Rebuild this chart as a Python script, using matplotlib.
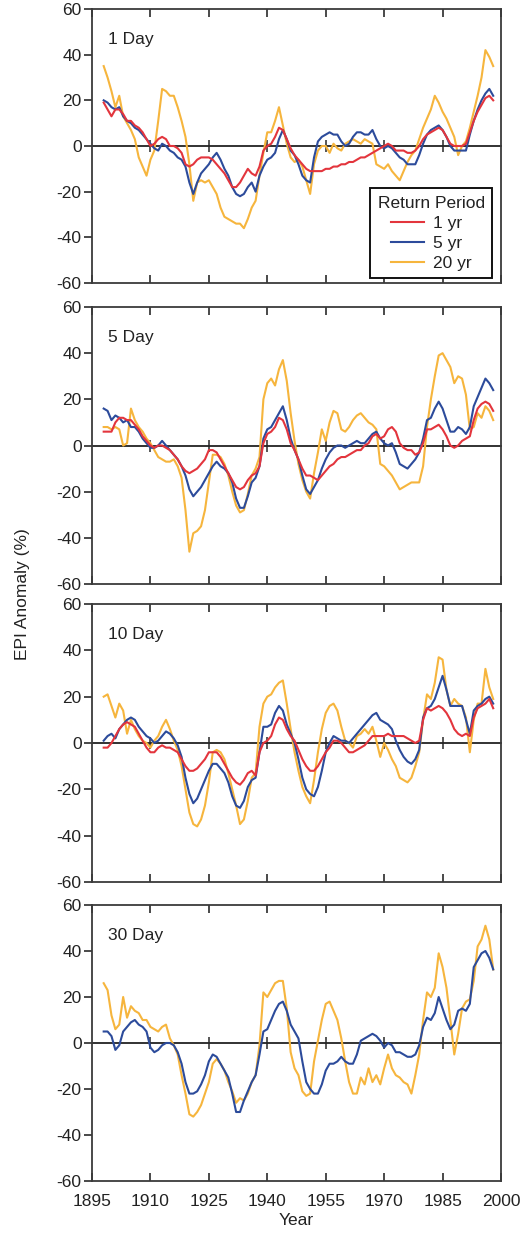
import numpy as np
import matplotlib
matplotlib.use("Agg")
import matplotlib.pyplot as plt

plt.rcParams['font.family'] = ['Liberation Sans', 'DejaVu Sans']
plt.rcParams['axes.unicode_minus'] = False

years = np.arange(1898, 1999)

panel_titles = ["1 Day", "5 Day", "10 Day", "30 Day"]
series_labels = ["1 yr", "5 yr", "20 yr"]
legend_title = "Return Period"
x_ticks = [1895, 1910, 1925, 1940, 1955, 1970, 1985, 2000]
y_ticks = [-60, -40, -20, 0, 20, 40, 60]

# ---- 1 Day ----
day1_1yr = [19, 16, 13, 16, 16, 14, 11, 11, 9, 8,
            6, 3, 0, 1, 3, 4, 3, 0, 0, -1,
            -3, -8, -9, -8, -6, -5, -5, -5, -6, -8,
            -10, -12, -15, -18, -18, -16, -13, -10, -12, -13,
            -9, -2, 0, 1, 4, 8, 7, 3, -1, -4,
            -6, -8, -10, -11, -11, -11, -11, -10, -10, -9,
            -9, -8, -8, -7, -7, -6, -5, -5, -4, -3,
            -2, -1, 0, 1, 0, -2, -2, -2, -3, -3,
            -2, 0, 3, 5, 6, 7, 8, 7, 4, 1,
            0, 0, 0, 1, 6, 11, 15, 18, 21, 22,
            20]
day1_5yr = [20, 19, 17, 16, 17, 13, 11, 10, 8, 7,
            5, 3, 1, -1, -2, 1, 0, -2, -3, -5,
            -6, -9, -16, -21, -16, -12, -10, -8, -5, -3,
            -6, -10, -13, -18, -21, -22, -21, -18, -16, -20,
            -13, -9, -6, -5, -3, 3, 7, 3, -2, -4,
            -8, -13, -15, -16, -5, 2, 4, 5, 6, 5,
            5, 2, 0, 1, 4, 6, 6, 5, 5, 7,
            3, 0, -1, 0, -1, -3, -5, -6, -8, -8,
            -8, -4, 1, 5, 7, 8, 9, 7, 4, 0,
            -2, -2, -2, -2, 5, 11, 16, 20, 23, 25,
            22]
day1_20yr = [35, 30, 24, 17, 22, 13, 10, 7, 3, -5,
             -9, -13, -6, -2, 11, 25, 24, 22, 22, 17,
             11, 4, -8, -24, -16, -15, -16, -15, -18, -21,
             -27, -31, -32, -33, -34, -34, -36, -32, -27, -24,
             -13, -3, 6, 6, 11, 17, 9, 1, -5, -7,
             -6, -9, -15, -21, -8, -2, 0, 0, -3, 1,
             -1, -2, 1, 2, 3, 2, 1, 3, 2, 1,
             -8, -9, -10, -8, -11, -13, -15, -11, -7, -4,
             -2, 3, 8, 12, 16, 22, 19, 15, 12, 8,
             4, -4, 0, 2, 8, 15, 22, 30, 42, 39,
             35]

# ---- 5 Day ----
day5_1yr = [6, 6, 6, 10, 12, 12, 11, 11, 9, 7,
            4, 2, 0, -1, 0, 0, -1, -2, -4, -6,
            -9, -11, -12, -11, -10, -8, -6, -2, -2, -3,
            -6, -9, -12, -15, -18, -19, -18, -15, -13, -12,
            -9, 1, 5, 6, 8, 12, 11, 7, 1, -2,
            -6, -10, -13, -13, -14, -15, -13, -11, -9, -8,
            -6, -5, -5, -4, -3, -2, -2, 0, 1, 4,
            5, 3, 4, 7, 8, 6, 1, -1, -2, -2,
            -4, -3, 1, 7, 7, 8, 9, 7, 4, 0,
            -1, 0, 2, 3, 4, 11, 16, 18, 19, 18,
            15]
day5_5yr = [16, 15, 11, 13, 12, 10, 11, 8, 8, 6,
            3, 1, -1, -1, 0, 2, 0, -2, -4, -6,
            -9, -13, -19, -22, -20, -18, -15, -12, -9, -7,
            -9, -10, -12, -16, -23, -27, -27, -22, -16, -14,
            -9, 3, 7, 8, 11, 14, 17, 11, 3, -2,
            -6, -13, -19, -21, -18, -15, -10, -6, -3, -1,
            0, 0, -1, 0, 1, 2, 1, 1, 3, 5,
            6, 3, 1, 0, 1, -3, -8, -9, -10, -8,
            -6, -3, 3, 11, 12, 16, 19, 16, 11, 6,
            6, 8, 7, 5, 8, 17, 21, 25, 29, 27,
            24]
day5_20yr = [8, 8, 7, 8, 7, 0, 1, 16, 11, 8,
             6, 3, 1, -2, -5, -6, -7, -7, -6, -9,
             -14, -28, -46, -38, -37, -35, -28, -16, -4, -4,
             -5, -8, -13, -20, -26, -29, -28, -21, -13, -10,
             -5, 20, 27, 29, 26, 33, 37, 28, 14, 2,
             -8, -15, -20, -23, -12, -3, 7, 2, 10, 15,
             14, 7, 6, 8, 11, 13, 14, 12, 10, 9,
             7, -8, -9, -11, -13, -16, -19, -18, -17, -16,
             -16, -16, -9, 8, 20, 30, 39, 40, 37, 34,
             27, 30, 29, 22, 7, 8, 14, 12, 17, 15,
             11]

# ---- 10 Day ----
day10_1yr = [-2, -2, 0, 3, 6, 8, 9, 8, 7, 4,
             1, -2, -4, -4, -2, -1, -2, -2, -3, -4,
             -7, -10, -12, -12, -11, -9, -7, -4, -4, -4,
             -6, -9, -12, -15, -17, -18, -16, -13, -12, -14,
             -4, 0, 1, 3, 8, 11, 10, 6, 3, 1,
             -3, -7, -10, -12, -12, -10, -7, -4, -2, 1,
             1, 0, -2, -4, -4, -3, -2, -1, 1, 3,
             3, 3, 3, 4, 3, 3, 3, 3, 2, 1,
             0, 1, 10, 15, 14, 15, 16, 15, 13, 10,
             6, 4, 3, 4, 3, 11, 15, 16, 17, 19,
             15]
day10_5yr = [1, 3, 4, 2, 6, 8, 10, 11, 10, 7,
             5, 3, 2, 0, 1, 3, 5, 4, 2, -1,
             -6, -15, -22, -26, -24, -20, -16, -12, -9, -9,
             -11, -13, -17, -23, -27, -28, -25, -19, -16, -15,
             -4, 7, 7, 8, 13, 16, 14, 8, 4, 0,
             -7, -15, -20, -22, -23, -19, -12, -4, 0, 3,
             2, 1, 1, 0, 2, 4, 6, 8, 10, 12,
             13, 10, 9, 8, 6, 1, -3, -6, -8, -9,
             -7, -3, 11, 15, 16, 19, 24, 29, 23, 16,
             16, 16, 16, 10, 4, 14, 16, 17, 19, 20,
             17]
day10_20yr = [20, 21, 16, 11, 17, 14, 4, 10, 6, 3,
              1, 0, -2, 1, 3, 7, 10, 6, 1, -3,
              -10, -20, -30, -35, -36, -33, -27, -17, -4, -3,
              -4, -7, -13, -20, -27, -35, -33, -25, -15, -13,
              7, 17, 20, 21, 24, 26, 27, 17, 6, -4,
              -12, -19, -23, -26, -16, -4, 6, 13, 16, 17,
              14, 7, 1, 0, -2, 3, 4, 6, 4, 7,
              1, -6, 0, -3, -7, -10, -15, -16, -17, -15,
              -10, -4, 10, 21, 19, 26, 37, 36, 23, 16,
              19, 17, 16, 11, -4, 10, 17, 17, 32, 24,
              19]

# ---- 30 Day ----
day30_5yr = [5, 5, 3, -3, -1, 5, 7, 9, 10, 8,
             7, 5, -2, -4, -3, -1, 0, 0, -1, -4,
             -9, -17, -22, -22, -21, -18, -14, -8, -5, -6,
             -9, -12, -15, -22, -30, -30, -25, -21, -17, -14,
             -5, 5, 6, 10, 14, 17, 18, 14, 8, 5,
             2, -8, -17, -20, -22, -22, -18, -12, -9, -9,
             -8, -6, -8, -9, -9, -5, 1, 2, 3, 4,
             3, 1, -2, 0, -1, -4, -4, -5, -6, -6,
             -5, -1, 7, 11, 10, 13, 20, 15, 10, 6,
             8, 14, 15, 14, 17, 33, 36, 39, 40, 37,
             32]
day30_20yr = [26, 23, 12, 6, 8, 20, 11, 16, 14, 13,
              10, 10, 7, 6, 5, 7, 8, 2, -1, -5,
              -14, -22, -31, -32, -30, -27, -22, -17, -9, -7,
              -9, -12, -17, -21, -26, -24, -25, -22, -17, -14,
              -1, 22, 20, 23, 26, 27, 27, 15, -4, -11,
              -14, -21, -23, -22, -8, 1, 10, 17, 18, 14,
              10, 2, -8, -17, -22, -22, -15, -18, -11, -17,
              -14, -18, -11, -5, -11, -14, -15, -17, -18, -22,
              -14, -5, 10, 22, 20, 24, 39, 33, 24, 10,
              -5, 4, 15, 18, 19, 27, 42, 45, 51, 45,
              32]

panels = [
    {"1 yr": day1_1yr, "5 yr": day1_5yr, "20 yr": day1_20yr},
    {"1 yr": day5_1yr, "5 yr": day5_5yr, "20 yr": day5_20yr},
    {"1 yr": day10_1yr, "5 yr": day10_5yr, "20 yr": day10_20yr},
    {"5 yr": day30_5yr, "20 yr": day30_20yr},
]

colors = {"1 yr": "#e3353d", "5 yr": "#2c4b9b", "20 yr": "#f6b53d"}
zorders = {"20 yr": 3, "5 yr": 4, "1 yr": 5}
frame_col = "#3a3a3a"
text_col = "#222222"

W, H = 525, 1238
fig = plt.figure(figsize=(W / 100, H / 100), dpi=100)

# axes boxes in pixels: (top, bottom)
boxes = [(9, 283), (307, 584), (604, 882), (905, 1181)]
left_px, right_px = 92, 501

for i, (top, bot) in enumerate(boxes):
    ax = fig.add_axes([left_px / W, 1 - bot / H, (right_px - left_px) / W, (bot - top) / H])
    data = panels[i]
    for key in ["20 yr", "5 yr", "1 yr"]:
        if key in data:
            ax.plot(years, data[key], color=colors[key], lw=1.5,
                    zorder=zorders[key], label=key, solid_joinstyle='round')
    ax.set_xlim(1895, 2000)
    ax.set_ylim(-60, 60)
    ax.set_xticks(x_ticks)
    ax.set_yticks(y_ticks)
    for s in ax.spines.values():
        s.set_color(frame_col)
        s.set_linewidth(1.3)
    ax.tick_params(axis='y', which='both', direction='out', length=6, width=1.3,
                   colors=frame_col, labelcolor=text_col, labelsize=12.5, pad=1.5,
                   left=True, right=False)
    ax.tick_params(axis='x', which='both', direction='in', length=6, width=1.3,
                   colors=frame_col, labelcolor=text_col, labelsize=12.5, pad=9,
                   top=True, bottom=True, labelbottom=(i == 3))

    # zero reference line with crossing tick marks
    zero_ax = ax.secondary_xaxis(0, transform=ax.transData)
    zero_ax.set_xticks(x_ticks[1:-1])
    zero_ax.tick_params(axis='x', direction='inout', length=8, width=1.2,
                        colors=frame_col, labelbottom=False)
    zero_ax.spines['bottom'].set_color("#222222")
    zero_ax.spines['bottom'].set_linewidth(1.3)

    ax.text(0.039, 0.89, panel_titles[i], transform=ax.transAxes,
            fontsize=12.5, color=text_col, ha='left', va='center')

    if i == 0:
        handles, labels = ax.get_legend_handles_labels()
        order = [labels.index(k) for k in series_labels]
        leg = ax.legend([handles[k] for k in order], [labels[k] for k in order],
                        title=legend_title, loc='lower right',
                        bbox_to_anchor=(0.978, 0.018), borderaxespad=0,
                        fontsize=12.5, title_fontsize=12.5, frameon=True,
                        fancybox=False, framealpha=1, edgecolor="#111111",
                        borderpad=0.42, labelspacing=0.28, handlelength=1.9,
                        handletextpad=0.55)
        leg.get_frame().set_linewidth(1.4)
        leg.get_title().set_color(text_col)
        for t in leg.get_texts():
            t.set_color(text_col)
        leg.set_zorder(10)
    if i == 3:
        ax.set_xlabel("Year", fontsize=12.5, color=text_col, labelpad=3)

fig.text(23 / W, 1 - 594 / H, "EPI Anomaly (%)", rotation=90, ha='center',
         va='center', fontsize=12.5, color=text_col)

fig.savefig("out.png", dpi=100)
